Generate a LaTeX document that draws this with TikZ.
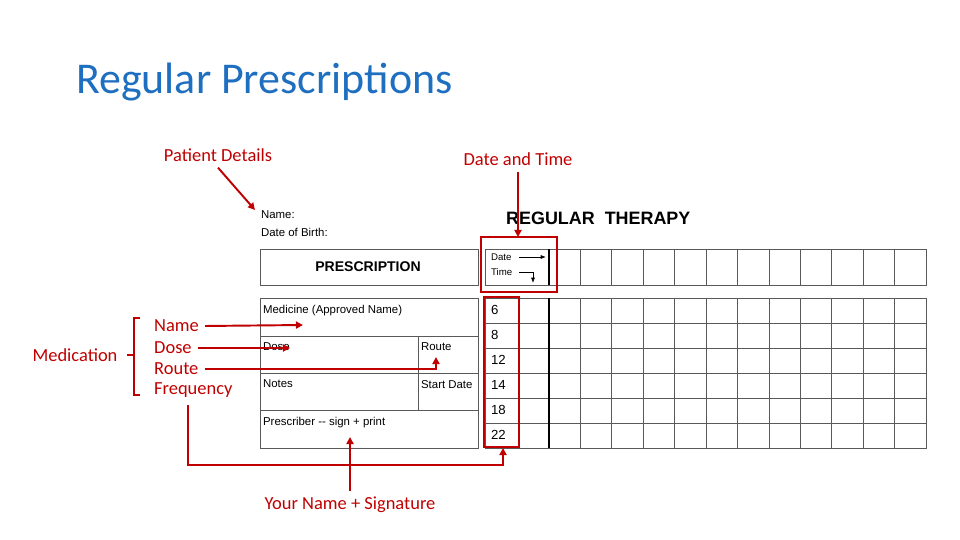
\documentclass[tikz,border=0pt]{standalone}
\usepackage{fontspec}
\setmainfont{Carlito}
\newfontfamily\formfont{Liberation Sans}
\usetikzlibrary{positioning}
\usetikzlibrary{arrows.meta}
\usepackage{xcolor}
\definecolor{callred}{HTML}{C00000}
\definecolor{titleblue}{HTML}{1F6FC0}

\begin{document}
\begin{tikzpicture}[x=0.02cm,y=-0.02cm,
    callout/.style={font=\fontsize{10.5}{12}\selectfont, text=callred},
    formtext/.style={font=\formfont\fontsize{6.5}{8}\selectfont, inner sep=1pt, anchor=west},
    formline/.style={draw=gray!70!black, line width=0.5pt},
    redline/.style={draw=callred, line width=1.1pt},
    redarrow/.style={redline, -{Triangle[length=4pt,width=4pt]}}]
            \useasboundingbox (0,0) rectangle (960,540);
            % Title
            \node[anchor=west, text=titleblue, font=\fontsize{25}{27}\selectfont] (title) at (70,82) {Regular Prescriptions};
            % Patient details
            \node[formtext] (name) at (259,215) {Name:};
            \node[formtext] (dob) at (259,232) {Date of Birth:};
            \node[anchor=west, font=\formfont\bfseries\fontsize{10.2}{12}\selectfont] (regular) at (500,218) {REGULAR\ \ THERAPY};
            % Prescription header
            \draw[formline] (260,249) rectangle (478,285);
            \node[font=\formfont\bfseries\fontsize{8}{9}\selectfont] (presc) at (368,267) {PRESCRIPTION};
            % Medicine box
            \draw[formline] (260,298) rectangle (478,448);
            \draw[formline] (260,336) -- (478,336) (260,373) -- (478,373) (260,410) -- (478,410);
            \draw[formline] (418,336) -- (418,410);
            \node[formtext, anchor=north west] (medicine) at (261,303) {Medicine (Approved Name)};
            \node[formtext, anchor=north west] (dose) at (261,341) {Dose};
            \node[formtext, anchor=north west] (route) at (419,341) {Route};
            \node[formtext, anchor=north west] (notes) at (261,378) {Notes};
            \node[formtext, anchor=north west] (start) at (419,378) {Start Date};
            \node[formtext, anchor=north west] (prescriber) at (261,415) {Prescriber -- sign + print};
            % Therapy grid
            \draw[formline] (485,249) rectangle (926,285);
            \draw[formline] (485,298) rectangle (926,448);
            \foreach \y in {323,348,373,398,423}
                \draw[formline] (485,\y) -- (926,\y);
            \draw[black, line width=1pt] (549,249) -- (549,285) (549,298) -- (549,448);
            \foreach \i in {1,...,11}
                \draw[formline] (549+\i*31.42,249) -- (549+\i*31.42,285)
                                (549+\i*31.42,298) -- (549+\i*31.42,448);
            \node[formtext, font=\formfont\fontsize{5.5}{6}\selectfont] (date) at (489,257) {Date};
            \node[formtext, font=\formfont\fontsize{5.5}{6}\selectfont] (time) at (489,272) {Time};
            \draw[-{Latex[length=3pt]}] (519,257) -- (546,257);
            \draw[-{Latex[length=3pt]}] (519,272) -- (533,272) -- (533,283);
            \foreach \t [count=\k from 0] in {6,8,12,14,18,22}
                \node[formtext, font=\formfont\fontsize{7.5}{9}\selectfont] (t\t) at (489,310+\k*25) {\t};
            % Red highlight boxes
            \draw[redline] (481,237) rectangle (557,292);
            \draw[redline] (484,297) rectangle (519,447);
            \coordinate (dtbox) at (518,237);
            \coordinate (timesbox) at (503,448);
            % Callouts
            \node[callout] (patient) at (218,155) {Patient Details};
            \node[callout] (datetime) at (518,159) {Date and Time};
            \node[callout] (medication) at (75,355) {Medication};
            \node[callout, anchor=west] (lname) at (148,326) {Name};
            \node[callout, anchor=west] (ldose) at (148,348) {Dose};
            \node[callout, anchor=west] (lroute) at (148,369) {Route};
            \node[callout, anchor=west] (lfreq) at (148,390) {Frequency};
            \node[callout] (signature) at (350,505) {Your Name + Signature};
            \draw[callred, line width=0.8pt] (140,318) -- (134,318) -- (134,395) -- (140,395)
                (134,355) -- (127,355);
            \draw[redarrow] (patient.south) -- (255,210);
            \draw[redarrow] (datetime.south) -- (dtbox);
            \draw[redarrow] (lname.east) -- (303,325);
            \draw[redarrow] (ldose.east) -- (290,348);
            \draw[redarrow] (lroute.east) -- (436,369) -- (436,357);
            \draw[redarrow] (188,405) -- (188,465) -- (503,465) -- (timesbox);
            \draw[redarrow] (signature.north) -- (350,437);
        \end{tikzpicture}
\end{document}
